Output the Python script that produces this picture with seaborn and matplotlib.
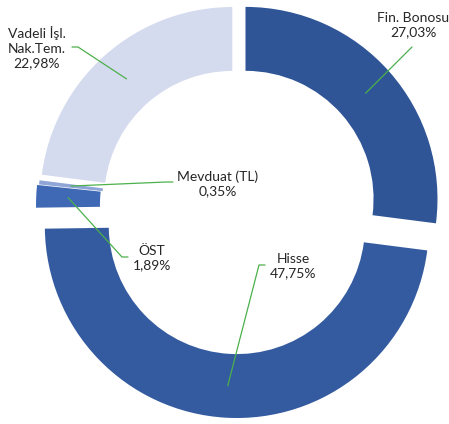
import matplotlib
matplotlib.use('Agg')
import numpy as np
import matplotlib.pyplot as plt
import seaborn as sns

# Data
categories = ['Fin. Bonosu', 'Hisse', 'ÖST', 'Mevduat (TL)', 'Vadeli İşl.\nNak.Tem.']
shares = [27.03, 47.75, 1.89, 0.35, 22.98]

# Style
colors = ['#2F5597', '#345B9F', '#3F69B5', '#8FA5D8', '#D5DBEE']
explode = [0.052, 0.107, 0.052, 0.042, 0.045]
line_color = '#4CB04C'

# label centres and leader start points, in pixels from top-left
label_px = [(413, 25), (293, 266), (152, 258), (218, 184), (37, 48)]
leader_px = [[(412, 47)],
             [(265, 265), (259, 265)],
             [(128, 257), (122, 257)],
             [(173, 182), (166, 182)],
             [(72, 47), (78, 47)]]

sns.set_theme(style='white')
plt.rcParams['font.family'] = ['Lato', 'DejaVu Sans']

W, H = 449, 424
R_PX = 192
CX, CY = 238, 205.5
RING = 0.333


def px(x, y):
    return (x - CX) / R_PX, (CY - y) / R_PX


fig = plt.figure(figsize=(W / 100, H / 100), dpi=100)
ax = fig.add_axes([0, 0, 1, 1])
wedges, _ = ax.pie(shares, colors=colors, explode=explode, startangle=90,
                   counterclock=False, radius=1,
                   wedgeprops=dict(width=RING, linewidth=0))
ax.set_xlim(-CX / R_PX, (W - CX) / R_PX)
ax.set_ylim(-(H - CY) / R_PX, CY / R_PX)
ax.set_aspect('equal')
ax.axis('off')

for w, name, val, lp, pts in zip(wedges, categories, shares, label_px, leader_px):
    txt = name + '\n' + f'{val:.2f}'.replace('.', ',') + '%'
    ax.text(*px(*lp), txt, ha='center', va='center', fontsize=10,
            color='#262626', linespacing=1.25)
    mid = np.deg2rad((w.theta1 + w.theta2) / 2)
    r_mid = 1 - RING / 2
    ax_, ay_ = w.center[0] + r_mid * np.cos(mid), w.center[1] + r_mid * np.sin(mid)
    xs = [px(*p)[0] for p in pts] + [ax_]
    ys = [px(*p)[1] for p in pts] + [ay_]
    ax.plot(xs, ys, color=line_color, lw=0.9)

fig.savefig('out.png', dpi=100)
